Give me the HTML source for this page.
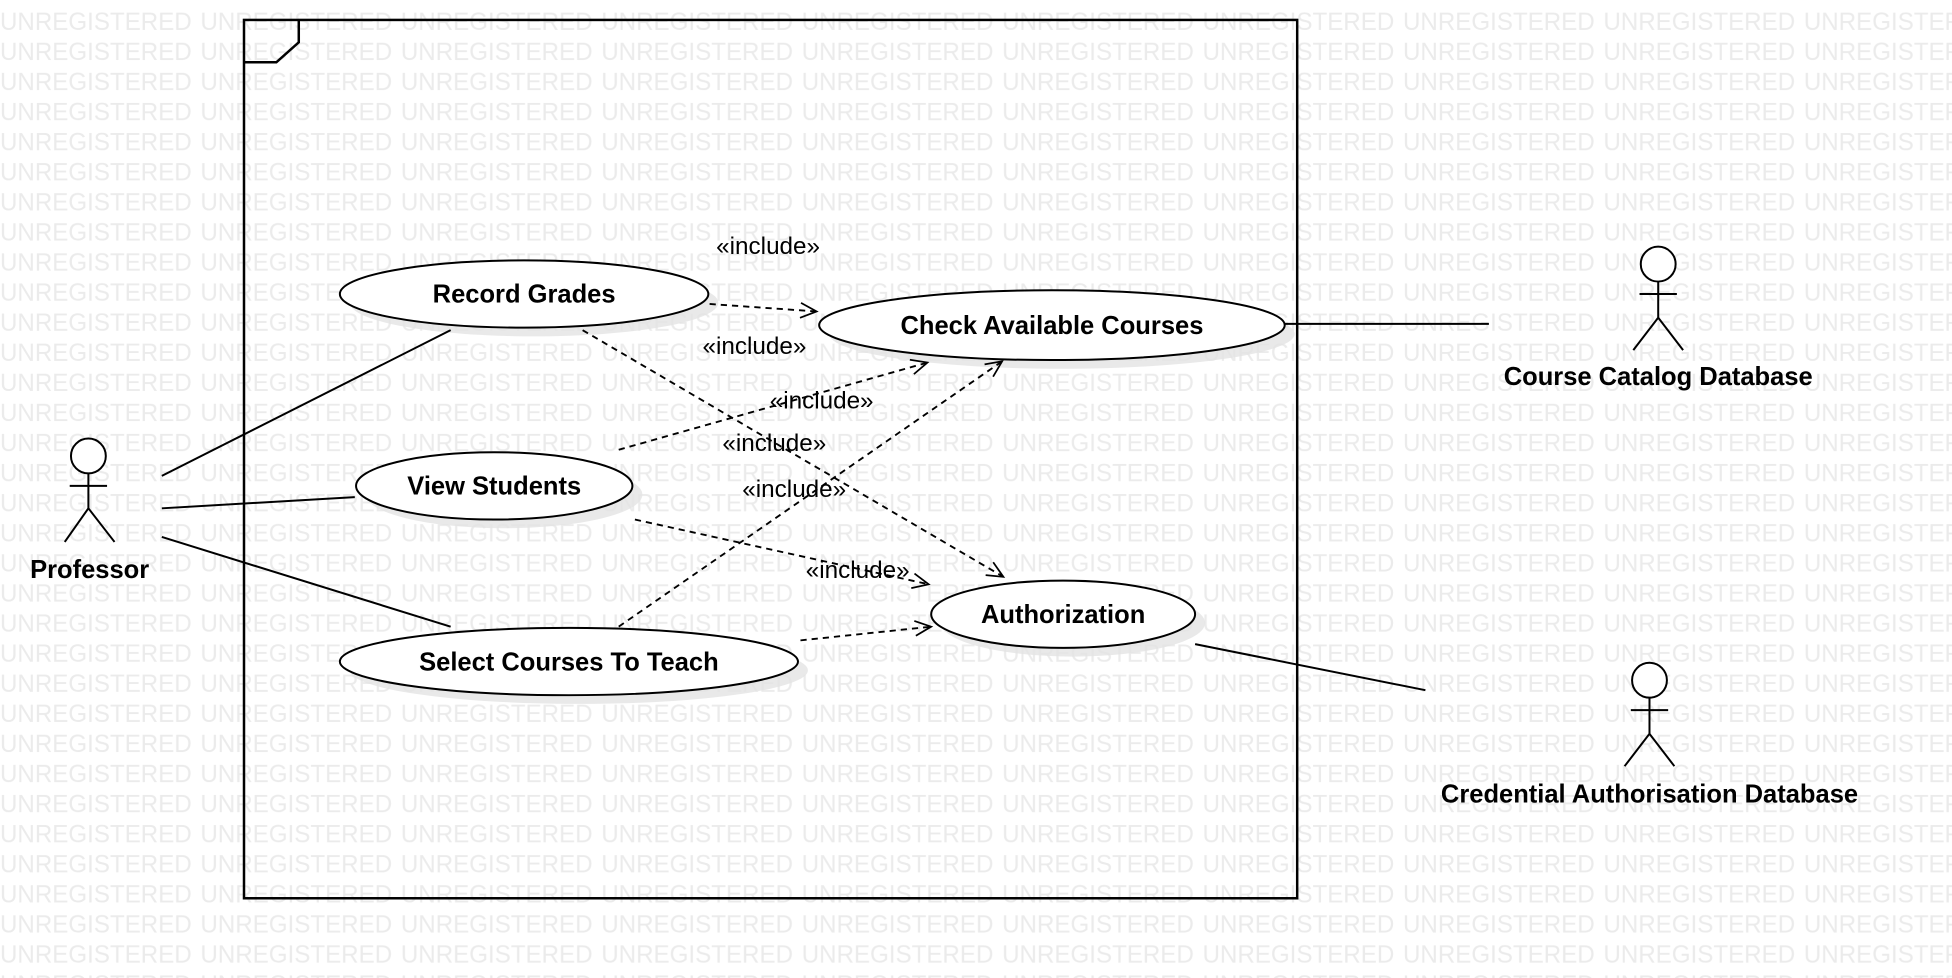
<!DOCTYPE html>
<html><head><meta charset="utf-8"><style>
html,body{margin:0;padding:0;background:#fff;}
svg{display:block;}
</style></head><body>
<svg width="1952" height="978" viewBox="0 0 1568 785" preserveAspectRatio="none" xmlns="http://www.w3.org/2000/svg" font-family="Liberation Sans, Arial, sans-serif">
<defs>
<pattern id="wm" x="0" y="7" width="161" height="24.15" patternUnits="userSpaceOnUse">
<text x="0" y="17" font-size="19.5" fill="#ebebeb" textLength="154" lengthAdjust="spacingAndGlyphs">UNREGISTERED</text>
</pattern>
<marker id="ar" markerWidth="16" markerHeight="16" refX="14" refY="8" orient="auto" markerUnits="userSpaceOnUse">
<path d="M1,2 L14,8 L1,14" fill="none" stroke="#000" stroke-width="1.4"/>
</marker>
</defs>
<rect x="0" y="0" width="1568" height="785" fill="#fff"/>
<rect x="0" y="0" width="1568" height="785" fill="url(#wm)"/>

<rect x="196" y="16" width="846" height="705" fill="none" stroke="#000" stroke-width="2"/>
<path d="M196,50 L222,50 L240,34 L240,16" fill="none" stroke="#000" stroke-width="2"/>

<g fill="#e4e4e4" opacity="0.8">
<ellipse cx="429" cy="243" rx="148" ry="27"/>
<ellipse cx="853" cy="268" rx="187" ry="28"/>
<ellipse cx="405" cy="397" rx="111" ry="27"/>
<ellipse cx="465" cy="538" rx="184" ry="27"/>
<ellipse cx="862" cy="500" rx="106" ry="27"/>
</g>

<g stroke="#000" stroke-width="1.6" fill="none">
<line x1="130" y1="382" x2="362" y2="265"/>
<line x1="130" y1="408" x2="285" y2="399"/>
<line x1="130" y1="431" x2="362" y2="503"/>
<line x1="1032" y1="260" x2="1196" y2="260"/>
<line x1="960" y1="517" x2="1145" y2="554"/>
</g>

<g stroke="#000" stroke-width="1.5" fill="none" stroke-dasharray="5,4" marker-end="url(#ar)">
<line x1="570" y1="244" x2="656" y2="250"/>
<line x1="468" y1="265" x2="806" y2="463"/>
<line x1="497" y1="361" x2="745" y2="291"/>
<line x1="497" y1="503" x2="805" y2="290"/>
<line x1="510" y1="417" x2="746" y2="469"/>
<line x1="643" y1="514" x2="748" y2="503"/>
</g>

<g fill="#fff" stroke="#000" stroke-width="1.6">
<ellipse cx="421" cy="236" rx="148" ry="27"/>
<ellipse cx="845" cy="261" rx="187" ry="28"/>
<ellipse cx="397" cy="390" rx="111" ry="27"/>
<ellipse cx="457" cy="531" rx="184" ry="27"/>
<ellipse cx="854" cy="493" rx="106" ry="27"/>
</g>

<g font-weight="bold" font-size="20.5" text-anchor="middle" fill="#000">
<text x="421" y="243">Record Grades</text>
<text x="845" y="268">Check Available Courses</text>
<text x="397" y="397">View Students</text>
<text x="457" y="538">Select Courses To Teach</text>
<text x="854" y="500">Authorization</text>
<text x="72" y="464">Professor</text>
<text x="1332" y="309">Course Catalog Database</text>
<text x="1325" y="644">Credential Authorisation Database</text>
</g>

<g font-size="19.5" text-anchor="middle" fill="#000">
<text x="617" y="204">«include»</text>
<text x="606" y="284">«include»</text>
<text x="660" y="328">«include»</text>
<text x="622" y="362">«include»</text>
<text x="638" y="399">«include»</text>
<text x="689" y="464">«include»</text>
</g>

<g stroke="#000" stroke-width="1.6" fill="#fff">
<circle cx="71" cy="366" r="14"/>
<path d="M71,380 V408 M56,390 H86 M52,435 L71,408 L92,435" fill="none"/>
<circle cx="1332" cy="212" r="14"/>
<path d="M1332,226 V255 M1317,236 H1347 M1312,281 L1332,255 L1352,281" fill="none"/>
<circle cx="1325" cy="546" r="14"/>
<path d="M1325,560 V589 M1310,570 H1340 M1305,615 L1325,589 L1345,615" fill="none"/>
</g>
</svg>
</body></html>
